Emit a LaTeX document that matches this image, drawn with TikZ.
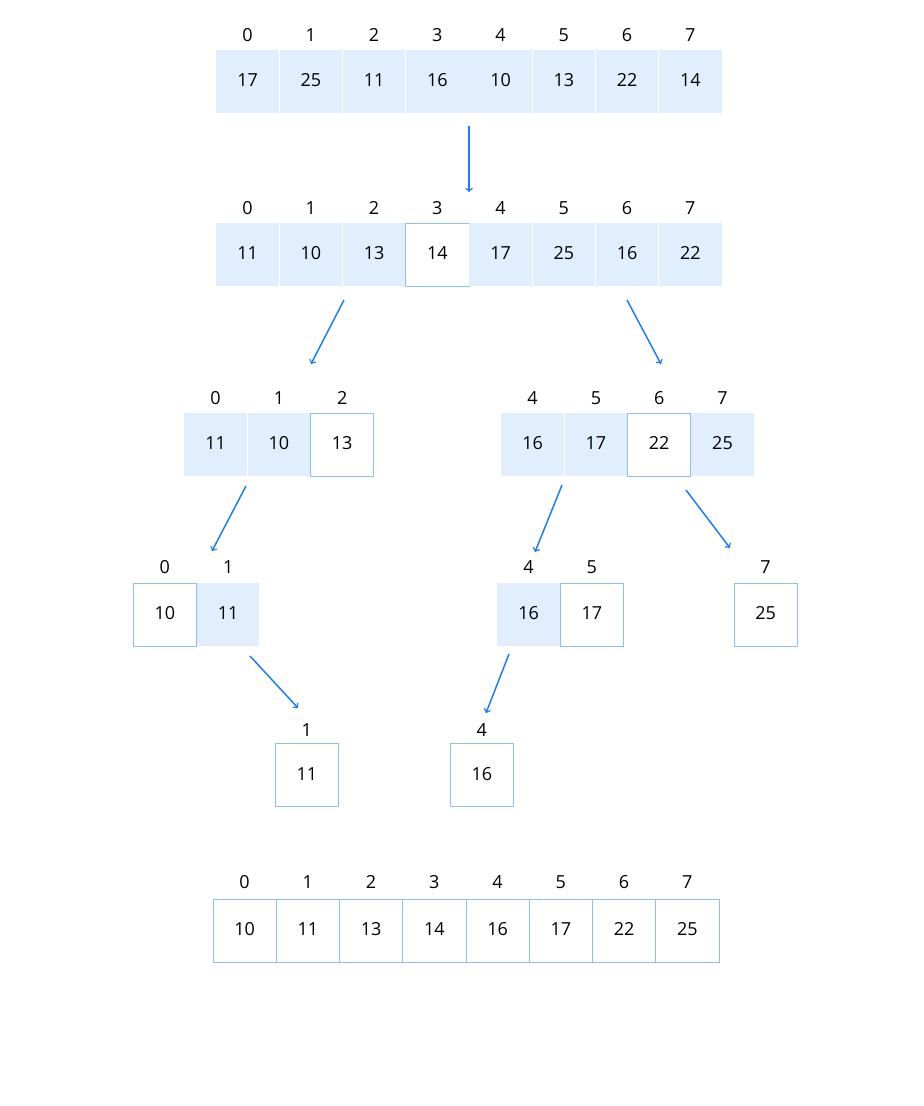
\documentclass[tikz,border=0pt]{standalone}
\usepackage{fontspec}
\setmainfont{Open Sans}
\usetikzlibrary{arrows}

\definecolor{cellblue}{HTML}{E1EEFD}
\definecolor{lineblue}{HTML}{8DBDF6}
\definecolor{arrowblue}{HTML}{1A7CF0}

\tikzset{
  fullcell/.style={fill=cellblue, minimum size=46.9pt, inner sep=0pt, text height=1.4ex, text depth=0pt, font=\fontsize{13.5}{15}\selectfont},
  pivcell/.style={draw=lineblue, line width=0.6pt, fill=white, minimum size=47.4pt, inner sep=0pt, text height=1.4ex, text depth=0pt, font=\fontsize{13.5}{15}\selectfont},
  idx/.style={inner sep=0pt, font=\fontsize{13.5}{15}\selectfont},
  arr/.style={->, >=to, draw=arrowblue, line width=1.1pt}
}

\begin{document}
\begin{tikzpicture}[x=0.75pt, y=-0.75pt]
\useasboundingbox (0,0) rectangle (924,1106);

% starting array
\foreach \i/\v in {0/17,1/25,2/11,3/16,4/10,5/13,6/22,7/14}{
  \node[fullcell] (a\i) at (247.6+63.25*\i,81.5) {\v};
  \node[idx] (la\i) at (247.6+63.25*\i,35) {\i};
}

% after first partition
\foreach \i/\v/\s in {0/11/fullcell,1/10/fullcell,2/13/fullcell,3/14/pivcell,4/17/fullcell,5/25/fullcell,6/16/fullcell,7/22/fullcell}{
  \node[\s] (b\i) at (247.6+63.25*\i,254.5) {\v};
  \node[idx] (lb\i) at (247.6+63.25*\i,208) {\i};
}

% left and right parts
\foreach \i/\v/\s in {0/11/fullcell,1/10/fullcell,2/13/pivcell}{
  \node[\s] (c\i) at (215.6+63.3*\i,444.5) {\v};
  \node[idx] (lc\i) at (215.6+63.3*\i,398) {\i};
}
\foreach \i/\v/\s in {4/16/fullcell,5/17/fullcell,6/22/pivcell,7/25/fullcell}{
  \node[\s] (c\i) at (532.6+63.3*\i-253.2,444.5) {\v};
  \node[idx] (lc\i) at (532.6+63.3*\i-253.2,398) {\i};
}

% third level
\node[pivcell] (d0) at (164.8,614.5) {10};
\node[idx] (ld0) at (164.8,567) {0};
\node[fullcell] (d1) at (228.2,614.5) {11};
\node[idx] (ld1) at (228.2,567) {1};
\node[fullcell] (d4) at (528.6,614.5) {16};
\node[idx] (ld4) at (528.6,567) {4};
\node[pivcell] (d5) at (591.8,614.5) {17};
\node[idx] (ld5) at (591.8,567) {5};
\node[pivcell] (d7) at (765.6,614.5) {25};
\node[idx] (ld7) at (765.6,567) {7};

% single elements
\node[pivcell] (e1) at (306.8,775) {11};
\node[idx] (le1) at (306.8,730) {1};
\node[pivcell] (e4) at (481.8,775) {16};
\node[idx] (le4) at (481.8,730) {4};

% sorted array
\foreach \i/\v in {0/10,1/11,2/13,3/14,4/16,5/17,6/22,7/25}{
  \node[pivcell] (f\i) at (244.6+63.25*\i,930.5) {\v};
  \node[idx] (lf\i) at (244.6+63.25*\i,882) {\i};
}

% arrows
\coordinate (p1) at (469,126);
\coordinate (q1) at (469,192);
\coordinate (p2) at (344,300);
\coordinate (q2) at (311,364);
\coordinate (p3) at (627,300);
\coordinate (q3) at (661,364);
\coordinate (p4) at (246,486);
\coordinate (q4) at (212,551);
\coordinate (p5) at (562,485);
\coordinate (q5) at (535,552);
\coordinate (p6) at (686,490);
\coordinate (q6) at (730,548);
\coordinate (p7) at (250,656);
\coordinate (q7) at (298,708);
\coordinate (p8) at (509,654);
\coordinate (q8) at (486,713);
\foreach \k in {1,...,8}
  \draw[arr] (p\k) -- (q\k);
\end{tikzpicture}
\end{document}
